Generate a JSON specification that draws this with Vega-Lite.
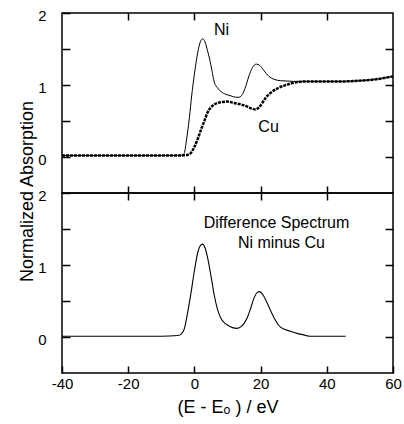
{
  "$schema": "https://vega.github.io/schema/vega-lite/v6.json",
  "autosize": {"type": "pad"},
  "padding": {"left": 17, "top": 7, "right": 4, "bottom": 5},
  "background": "white",
  "spacing": 0,
  "bounds": "flush",
  "config": {
    "font": "Liberation Sans",
    "view": {"stroke": "black", "strokeWidth": 1.5},
    "axis": {
      "grid": false,
      "domain": false,
      "ticks": true,
      "zindex": 2,
      "tickColor": "#000000",
      "tickOpacity": 1,
      "tickWidth": 1.5,
      "labelColor": "black",
      "labelFont": "Liberation Sans",
      "labelFontSize": 15,
      "titleColor": "black",
      "titleFont": "Liberation Sans",
      "titleFontSize": 18,
      "titleFontWeight": "normal"
    },
    "text": {"font": "Liberation Sans", "fontSize": 16, "color": "black"}
  },
  "datasets": {
    "ni": [
      {"E": -40, "A": 0.02}, {"E": -35, "A": 0.02}, {"E": -30, "A": 0.02}, {"E": -25, "A": 0.02},
      {"E": -20, "A": 0.02}, {"E": -15, "A": 0.02}, {"E": -10, "A": 0.02}, {"E": -5, "A": 0.022},
      {"E": -3.5, "A": 0.03}, {"E": -3, "A": 0.06}, {"E": -2.5, "A": 0.2}, {"E": -1.5, "A": 0.55},
      {"E": -0.8, "A": 0.86}, {"E": 0, "A": 1.15}, {"E": 1, "A": 1.45}, {"E": 1.8, "A": 1.6},
      {"E": 2.5, "A": 1.64}, {"E": 3.2, "A": 1.6}, {"E": 4, "A": 1.47}, {"E": 4.6, "A": 1.36},
      {"E": 5.3, "A": 1.2}, {"E": 6, "A": 1.04}, {"E": 7, "A": 0.96}, {"E": 8, "A": 0.91},
      {"E": 9.5, "A": 0.87}, {"E": 11, "A": 0.85}, {"E": 12.5, "A": 0.83}, {"E": 13.5, "A": 0.83},
      {"E": 14.5, "A": 0.87}, {"E": 15.5, "A": 0.98}, {"E": 16.5, "A": 1.13}, {"E": 17.5, "A": 1.24},
      {"E": 18.7, "A": 1.29}, {"E": 19.8, "A": 1.27}, {"E": 21, "A": 1.2}, {"E": 22.5, "A": 1.12},
      {"E": 24, "A": 1.08}, {"E": 26, "A": 1.06}, {"E": 28, "A": 1.055}, {"E": 30, "A": 1.05},
      {"E": 35, "A": 1.05}, {"E": 40, "A": 1.05}, {"E": 45, "A": 1.05}, {"E": 50, "A": 1.06},
      {"E": 55, "A": 1.08}, {"E": 60, "A": 1.12}
    ],
    "cu": [
      {"E": -40, "A": 0.02}, {"E": -35, "A": 0.02}, {"E": -30, "A": 0.02}, {"E": -25, "A": 0.02},
      {"E": -20, "A": 0.02}, {"E": -15, "A": 0.02}, {"E": -10, "A": 0.02}, {"E": -5, "A": 0.02},
      {"E": -3, "A": 0.025}, {"E": -2, "A": 0.03}, {"E": -1, "A": 0.06}, {"E": 0, "A": 0.14},
      {"E": 1, "A": 0.25}, {"E": 2, "A": 0.38}, {"E": 3, "A": 0.5}, {"E": 4, "A": 0.62},
      {"E": 5, "A": 0.69}, {"E": 6, "A": 0.73}, {"E": 7, "A": 0.75}, {"E": 8.5, "A": 0.765},
      {"E": 10, "A": 0.77}, {"E": 12, "A": 0.75}, {"E": 14, "A": 0.73}, {"E": 16, "A": 0.7},
      {"E": 17.5, "A": 0.67}, {"E": 18.5, "A": 0.66}, {"E": 19.5, "A": 0.69}, {"E": 20.5, "A": 0.75},
      {"E": 21.5, "A": 0.82}, {"E": 23, "A": 0.89}, {"E": 25, "A": 0.95}, {"E": 27, "A": 0.99},
      {"E": 29, "A": 1.02}, {"E": 32, "A": 1.045}, {"E": 35, "A": 1.05}, {"E": 40, "A": 1.05},
      {"E": 45, "A": 1.05}, {"E": 50, "A": 1.06}, {"E": 55, "A": 1.08}, {"E": 60, "A": 1.12}
    ],
    "diff": [
      {"E": -40, "A": 0.01}, {"E": -30, "A": 0.01}, {"E": -20, "A": 0.01}, {"E": -10, "A": 0.01},
      {"E": -5, "A": 0.02}, {"E": -4, "A": 0.04}, {"E": -3, "A": 0.12}, {"E": -2, "A": 0.35},
      {"E": -1, "A": 0.62}, {"E": 0, "A": 0.92}, {"E": 1, "A": 1.17}, {"E": 2, "A": 1.28},
      {"E": 2.5, "A": 1.29}, {"E": 3.2, "A": 1.24}, {"E": 4, "A": 1.1}, {"E": 5, "A": 0.85},
      {"E": 6, "A": 0.58}, {"E": 7, "A": 0.38}, {"E": 8, "A": 0.26}, {"E": 9, "A": 0.2},
      {"E": 10.2, "A": 0.16}, {"E": 11.5, "A": 0.13}, {"E": 12.8, "A": 0.12}, {"E": 14, "A": 0.14},
      {"E": 15, "A": 0.19}, {"E": 16, "A": 0.27}, {"E": 17, "A": 0.4}, {"E": 18, "A": 0.54},
      {"E": 19, "A": 0.62}, {"E": 19.7, "A": 0.63}, {"E": 20.5, "A": 0.6}, {"E": 21.5, "A": 0.52},
      {"E": 22.5, "A": 0.42}, {"E": 23.5, "A": 0.32}, {"E": 24.5, "A": 0.23}, {"E": 25.5, "A": 0.16},
      {"E": 27, "A": 0.11}, {"E": 29, "A": 0.08}, {"E": 31, "A": 0.05}, {"E": 33, "A": 0.03},
      {"E": 35, "A": 0.01}, {"E": 40, "A": 0.01}, {"E": 45.7, "A": 0.01}
    ]
  },
  "vconcat": [
    {
      "width": 331,
      "height": 180,
      "resolve": {"axis": {"x": "independent", "y": "independent"}},
      "layer": [
        {
          "data": {"name": "cu"},
          "mark": {"type": "line", "color": "black", "strokeWidth": 2.5, "strokeDash": [3, 1], "interpolate": "monotone"},
          "encoding": {
            "x": {"field": "E", "type": "quantitative", "scale": {"domain": [-40, 60], "nice": false, "zero": false},
                  "axis": {"orient": "top", "values": [-20, 0, 20, 40], "labels": false, "ticks": true, "tickSize": 7, "offset": -7, "title": null}},
            "y": {"field": "A", "type": "quantitative", "scale": {"domain": [-0.5, 2], "nice": false, "zero": false},
                  "axis": {"orient": "right", "values": [0, 0.5, 1, 1.5], "labels": false, "ticks": true, "tickSize": 8, "offset": -8, "title": null}}
          }
        },
        {
          "data": {"name": "ni"},
          "mark": {"type": "line", "color": "black", "strokeWidth": 1, "interpolate": "monotone"},
          "encoding": {
            "x": {"field": "E", "type": "quantitative",
                  "axis": {"orient": "bottom", "values": [-20, 0, 20, 40], "labels": false, "ticks": true, "tickSize": 7, "offset": -7, "title": null}},
            "y": {"field": "A", "type": "quantitative",
                  "axis": {"orient": "left", "values": [0, 0.5, 1, 1.5, 2], "ticks": true, "tickSize": 8, "offset": -8, "labelPadding": 16, "labelOffset": 2,
                           "labelExpr": "datum.value % 1 === 0 ? '' + datum.value : ''",
                           "title": "Normalized Absorption", "titleX": -43, "titleY": 178,
                           "titleAngle": -90, "titleAlign": "center", "titleBaseline": "middle"}}
          }
        },
        {
          "data": {"values": [{}]},
          "mark": {"type": "text", "align": "center", "baseline": "middle", "text": "Ni"},
          "encoding": {"x": {"datum": 8.2, "type": "quantitative", "axis": null}, "y": {"datum": 1.76, "type": "quantitative", "axis": null}}
        },
        {
          "data": {"values": [{}]},
          "mark": {"type": "text", "align": "center", "baseline": "middle", "text": "Cu"},
          "encoding": {"x": {"datum": 22.4, "type": "quantitative", "axis": null}, "y": {"datum": 0.42, "type": "quantitative", "axis": null}}
        }
      ]
    },
    {
      "width": 331,
      "height": 180,
      "resolve": {"axis": {"x": "independent", "y": "independent"}},
      "layer": [
        {
          "data": {"name": "diff"},
          "mark": {"type": "line", "color": "black", "strokeWidth": 1.1, "interpolate": "monotone"},
          "encoding": {
            "x": {"field": "E", "type": "quantitative", "scale": {"domain": [-40, 60], "nice": false, "zero": false},
                  "axis": {"orient": "bottom", "values": [-40, -20, 0, 20, 40, 60], "ticks": true, "tickSize": 7, "offset": -7, "labelPadding": 3,
                           "labelFlush": false, "labelExpr": "'' + datum.value",
                           "title": "(E - Eₒ ) / eV", "titleY": 41, "titleBaseline": "middle"}},
            "y": {"field": "A", "type": "quantitative", "scale": {"domain": [-0.5, 2], "nice": false, "zero": false},
                  "axis": {"orient": "left", "values": [0, 0.5, 1, 1.5, 2], "ticks": true, "tickSize": 8, "offset": -8, "labelPadding": 16, "labelOffset": 2,
                           "labelExpr": "datum.value % 1 === 0 ? '' + datum.value : ''", "title": null}}
          }
        },
        {
          "data": {"values": [{}]},
          "mark": {"type": "text", "align": "center", "baseline": "middle", "text": "Difference Spectrum"},
          "encoding": {
            "x": {"datum": 24.8, "type": "quantitative",
                  "axis": {"orient": "top", "values": [-20, 0, 20, 40], "labels": false, "ticks": true, "tickSize": 7, "offset": -7, "title": null}},
            "y": {"datum": 1.59, "type": "quantitative",
                  "axis": {"orient": "right", "values": [0, 0.5, 1, 1.5], "labels": false, "ticks": true, "tickSize": 8, "offset": -8, "title": null}}
          }
        },
        {
          "data": {"values": [{}]},
          "mark": {"type": "text", "align": "center", "baseline": "middle", "text": "Ni minus Cu"},
          "encoding": {"x": {"datum": 26.3, "type": "quantitative", "axis": null}, "y": {"datum": 1.3, "type": "quantitative", "axis": null}}
        }
      ]
    }
  ]
}
